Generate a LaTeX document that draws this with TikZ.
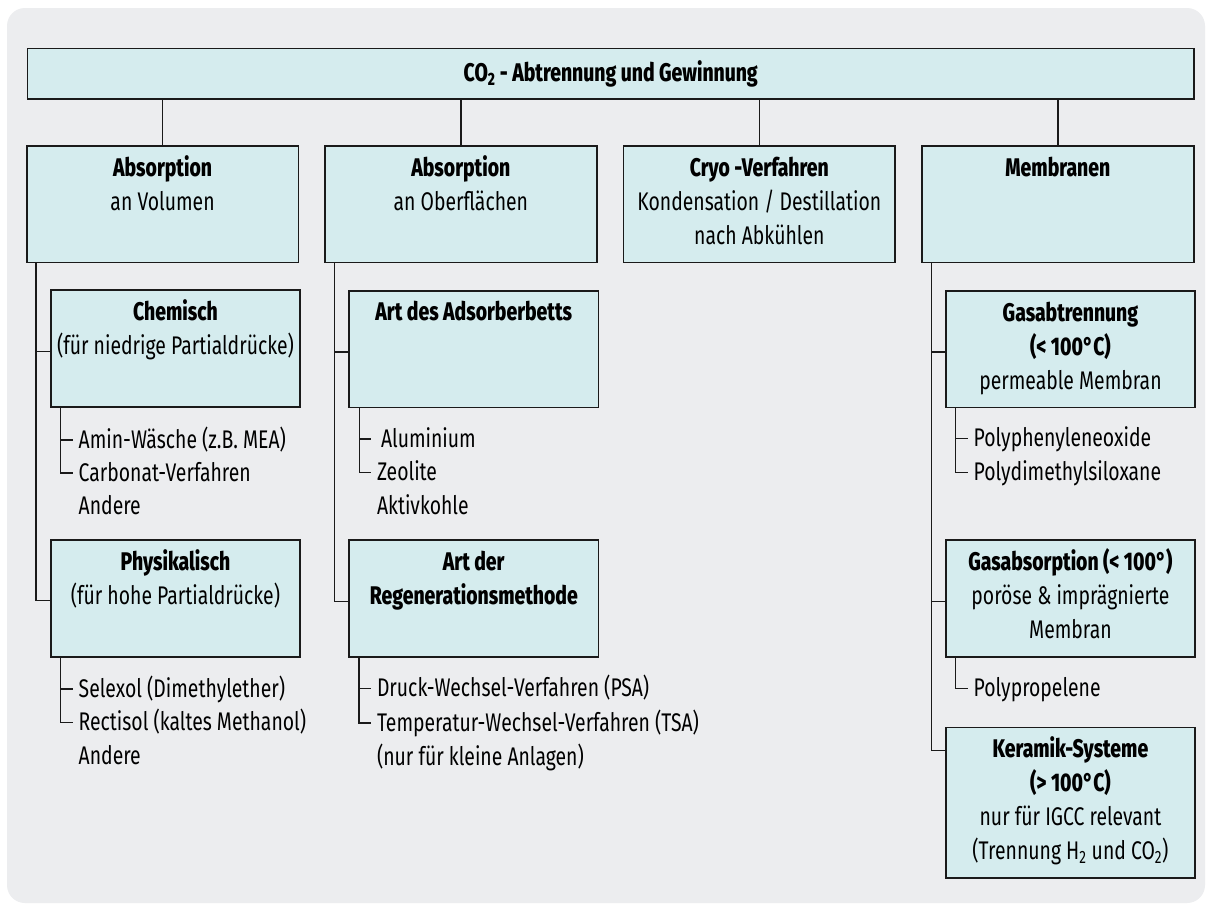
\documentclass[tikz,border=0pt]{standalone}
\usepackage{fontspec}
\setmainfont{Fira Sans}[BoldFont={* ExtraBold}, FakeStretch=0.76]
\definecolor{panel}{HTML}{ECEDEF}
\definecolor{boxfill}{HTML}{D5ECEE}
\definecolor{ink}{HTML}{1A1A1A}
\newcommand\topstrut{\rule{0pt}{26pt}}
\begin{document}
\begin{tikzpicture}[x=1pt,y=-1pt,
  box/.style={draw=ink, fill=boxfill, line width=1.6pt, anchor=north west, inner sep=0pt},
  boxtext/.style={anchor=north, align=center, inner sep=0pt, font=\fontsize{25.5}{34}\selectfont},
  item/.style={anchor=west, inner xsep=5.5pt, inner ysep=0pt, text height=20pt, text depth=4pt, font=\fontsize{25.5}{34}\selectfont},
  link/.style={draw=ink, line width=1.5pt}]
\useasboundingbox (0,0) rectangle (1206,905);
\fill[white] (0,0) rectangle (1206,905);
\fill[panel, rounded corners=18pt] (7,8) rectangle (1205,903);

% title bar
\node[box, minimum width=1166.6pt, minimum height=50.6pt] (top) at (26.7,47.7) {};
\node[anchor=base, inner sep=0pt, font=\fontsize{25.5}{34}\selectfont\bfseries] (toptext) at ([yshift=-8pt]top.center) {CO\textsubscript{2} - Abtrennung und Gewinnung};

% first level
\node[box, minimum width=271.5pt, minimum height=116.7pt] (b1) at (26,145) {};
\node[box, minimum width=272pt, minimum height=116.7pt] (b2) at (324,145) {};
\node[box, minimum width=271.6pt, minimum height=116.7pt] (b3) at (622.7,145) {};
\node[box, minimum width=272pt, minimum height=116.7pt] (b4) at (921,145) {};
\node[boxtext] (b1t) at ([yshift=-5pt]b1.north) {\topstrut\textbf{Absorption}\\an Volumen};
\node[boxtext] (b2t) at ([yshift=-5pt]b2.north) {\topstrut\textbf{Absorption}\\an Oberflächen};
\node[boxtext] (b3t) at ([yshift=-5pt]b3.north) {\topstrut\textbf{Cryo -Verfahren}\\Kondensation / Destillation\\nach Abkühlen};
\node[boxtext] (b4t) at ([yshift=-5pt]b4.north) {\topstrut\textbf{Membranen}};
\foreach \b in {b1,b2,b3,b4} \draw[link] (top.south -| \b.north) -- (\b.north);

% second level
\node[box, minimum width=249.3pt, minimum height=116.7pt] (chem) at (50,289.3) {};
\node[box, minimum width=249.3pt, minimum height=116.7pt] (phys) at (50,539.3) {};
\node[box, minimum width=249.4pt, minimum height=116.7pt] (adsb) at (348.3,290) {};
\node[box, minimum width=249.4pt, minimum height=116.7pt] (regen) at (348.3,539.3) {};
\node[box, minimum width=249.3pt, minimum height=116.7pt] (gasab) at (945,290) {};
\node[box, minimum width=249.3pt, minimum height=116.7pt] (gasabs) at (945,539.3) {};
\node[box, minimum width=249.3pt, minimum height=150.6pt] (ker) at (945,726.7) {};

\node[boxtext] (chemt) at ([yshift=-4.5pt]chem.north) {\topstrut\textbf{Chemisch}\\(für niedrige Partialdrücke)};
\node[boxtext] (physt) at ([yshift=-4.5pt]phys.north) {\topstrut\textbf{Physikalisch}\\(für hohe Partialdrücke)};
\node[boxtext] (adsbt) at ([yshift=-4.5pt]adsb.north) {\topstrut\textbf{Art des Adsorberbetts}};
\node[boxtext] (regent) at ([yshift=-4.5pt]regen.north) {\topstrut\textbf{Art der}\\\textbf{Regenerationsmethode}};
\node[boxtext] (gasabt) at ([yshift=-5pt]gasab.north) {\topstrut\textbf{Gasabtrennung}\\\textbf{(< 100°C)}\\permeable Membran};
\node[boxtext] (gasabst) at ([yshift=-5pt]gasabs.north) {\topstrut\textbf{Gasabsorption (< 100°)}\\poröse \& imprägnierte\\Membran};
\node[boxtext] (kert) at ([yshift=-5pt]ker.north) {\topstrut\textbf{Keramik-Systeme}\\\textbf{(> 100°C)}\\nur für IGCC relevant\\(Trennung H\textsubscript{2} und CO\textsubscript{2})};

% trunks from first to second level
\coordinate (t1) at ([xshift=10pt]b1.south west);
\coordinate (t2) at ([xshift=10.7pt]b2.south west);
\coordinate (t4) at ([xshift=10.7pt]b4.south west);
\draw[link] (t1) |- ([yshift=-3pt]chem.west);
\draw[link] (t1) |- ([yshift=-2pt]phys.west);
\draw[link] (t2) |- ([yshift=-3pt]adsb.west);
\draw[link] (t2) |- ([yshift=-3pt]regen.west);
\draw[link] (t4) |- ([yshift=-3pt]gasab.west);
\draw[link] (t4) |- ([yshift=-3pt]gasabs.west);
\draw[link] (t4) |- ([yshift=-24pt]ker.north west);

% item lists
\node[item] (c1) at (73,440) {Amin-Wäsche (z.B. MEA)};
\node[item] (c2) at (73,473) {Carbonat-Verfahren};
\node[item] (c3) at (73,506) {Andere};
\coordinate (ct) at ([xshift=10.7pt]chem.south west);
\draw[link] (ct |- c1.west) -- (c1.west);
\draw[link] (ct) |- (c2.west);

\node[item] (p1) at (73,689) {Selexol (Dimethylether)};
\node[item] (p2) at (73,722.5) {Rectisol (kaltes Methanol)};
\node[item] (p3) at (73,756.5) {Andere};
\coordinate (pt) at ([xshift=10.3pt]phys.south west);
\draw[link] (pt |- p1.west) -- (p1.west);
\draw[link] (pt) |- (p2.west);

\node[item] (a1) at (371.3,439) {\hspace*{4pt}Aluminium};
\node[item] (a2) at (371.3,472.3) {Zeolite};
\node[item] (a3) at (371.3,506) {Aktivkohle};
\coordinate (at) at ([xshift=11pt]adsb.south west);
\draw[link] (at |- a1.west) -- (a1.west);
\draw[link] (at) |- (a2.west);

\node[item] (r1) at (371.3,688.3) {Druck-Wechsel-Verfahren (PSA)};
\node[item] (r2) at (371.3,723) {Temperatur-Wechsel-Verfahren (TSA)};
\node[item] (r3) at (371.3,757) {(nur für kleine Anlagen)};
\coordinate (rt) at ([xshift=10.7pt]regen.south west);
\draw[link] (rt |- r1.west) -- (r1.west);
\draw[link] (rt) |- (r2.west);

\node[item] (g1) at (968,438.3) {Polyphenyleneoxide};
\node[item] (g2) at (968,472.3) {Polydimethylsiloxane};
\coordinate (gt) at ([xshift=10.7pt]gasab.south west);
\draw[link] (gt |- g1.west) -- (g1.west);
\draw[link] (gt) |- (g2.west);

\node[item] (s1) at (968,688.5) {Polypropelene};
\coordinate (st) at ([xshift=10.7pt]gasabs.south west);
\draw[link] (st) |- (s1.west);
\end{tikzpicture}
\end{document}
